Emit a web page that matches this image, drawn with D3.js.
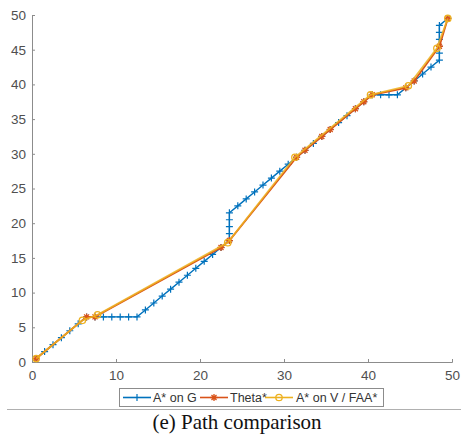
<!DOCTYPE html>
<html>
<head>
<meta charset="utf-8">
<script src="https://cdn.jsdelivr.net/npm/d3@7"></script>
<style>
  body { margin: 0; background: #fff; }
  .tick-label { font-family: "Liberation Sans", Arial, sans-serif; font-size: 13.5px; fill: #4f4f4f; }
  .legend-text { font-family: "Liberation Sans", Arial, sans-serif; font-size: 12.5px; fill: #333; }
  .caption { font-family: "Liberation Serif", "Times New Roman", serif; font-size: 21px; fill: #111; }
</style>
</head>
<body>
<div id="chart"></div>
<script>
// grid path found by A* (cell centres)
const gridX = [0.5, 1.5, 2.5, 3.5, 4.5, 5.5, 6.5,
  7.5, 8.5, 9.5, 10.5, 11.5, 12.5,
  13.5, 14.5, 15.5, 16.5, 17.5, 18.5, 19.5, 20.5, 21.5, 22.5,
  23.5, 23.5, 23.5, 23.5, 23.5,
  24.5, 25.5, 26.5, 27.5, 28.5, 29.5, 30.5, 31.5, 32.5, 33.5, 34.5, 35.5, 36.5, 37.5, 38.5, 39.5, 40.5,
  41.5, 42.5, 43.5,
  44.5, 45.5, 46.5, 47.5, 48.5,
  48.5, 48.5, 48.5, 48.5, 48.5,
  49.5];
const gridY = [0.5, 1.5, 2.5, 3.5, 4.5, 5.5, 6.5,
  6.5, 6.5, 6.5, 6.5, 6.5, 6.5,
  7.5, 8.5, 9.5, 10.5, 11.5, 12.5, 13.5, 14.5, 15.5, 16.5,
  17.5, 18.5, 19.5, 20.5, 21.5,
  22.5, 23.5, 24.5, 25.5, 26.5, 27.5, 28.5, 29.5, 30.5, 31.5, 32.5, 33.5, 34.5, 35.5, 36.5, 37.5, 38.5,
  38.5, 38.5, 38.5,
  39.5, 40.5, 41.5, 42.5, 43.5,
  44.5, 45.5, 46.5, 47.5, 48.5,
  49.5];

// Theta* waypoints
const thetaX = [0.5, 6.5, 7.5, 22.5, 23.5, 31.5, 32.5, 34.5, 35.5, 38.5, 39.5, 40.5, 44.5, 45.5, 48.5, 49.5];
const thetaY = [0.5, 6.5, 6.5, 16.5, 17.5, 29.5, 30.5, 32.5, 33.5, 36.5, 37.5, 38.5, 39.5, 40.5, 45.5, 49.5];

// A* on visibility graph / FAA*
const visX = [0.5, 6, 7.8, 23.3, 31.3, 40.3, 44.8, 48.2, 49.5];
const visY = [0.5, 6, 6.8, 17.2, 29.5, 38.5, 39.8, 45.2, 49.5];

const seriesNames = ["A* on G", "Theta*", "A* on V / FAA*"];
const xTicks = [0, 10, 20, 30, 40, 50];
const yTicks = [0, 5, 10, 15, 20, 25, 30, 35, 40, 45, 50];
const caption = "(e) Path comparison";

const width = 461, height = 434;
const colors = ["#0072BD", "#D95319", "#EDB120"];

const svg = d3.select("#chart").append("svg")
  .attr("width", width)
  .attr("height", height);

const x = d3.scaleLinear().domain([0, 50]).range([32, 452]);
const y = d3.scaleLinear().domain([0, 50]).range([362, 15]);

// axes (MATLAB style, ticks pointing inward, no box)
const axisColor = "#8c8c8c";
const xAxis = svg.append("g")
  .attr("transform", "translate(0," + y(0) + ")")
  .call(d3.axisBottom(x).tickValues(xTicks).tickSizeInner(-3).tickSizeOuter(-3).tickPadding(8));
const yAxis = svg.append("g")
  .attr("transform", "translate(" + x(0) + ",0)")
  .call(d3.axisLeft(y).tickValues(yTicks).tickSizeInner(-3).tickSizeOuter(-3).tickPadding(6));
[xAxis, yAxis].forEach(g => {
  g.select(".domain").attr("stroke", axisColor);
  g.selectAll(".tick line").attr("stroke", axisColor);
  g.selectAll(".tick text").attr("class", "tick-label").attr("font-size", null).attr("font-family", null).attr("fill", null);
});

const toPts = (xs, ys) => xs.map((v, i) => [v, ys[i]]);
const line = d3.line().x(d => x(d[0])).y(d => y(d[1]));

const plusPath = "M-3.5,0H3.5M0,-3.5V3.5";
const starPath = "M-3.5,0H3.5M0,-3.5V3.5M-2.5,-2.5L2.5,2.5M-2.5,2.5L2.5,-2.5";

function drawPlus(g, pts, color) {
  g.selectAll(null).data(pts).enter().append("path")
    .attr("d", plusPath)
    .attr("transform", d => "translate(" + x(d[0]) + "," + y(d[1]) + ")")
    .attr("stroke", color).attr("stroke-width", 1.2).attr("fill", "none");
}
function drawStar(g, pts, color) {
  g.selectAll(null).data(pts).enter().append("path")
    .attr("d", starPath)
    .attr("transform", d => "translate(" + x(d[0]) + "," + y(d[1]) + ")")
    .attr("stroke", color).attr("stroke-width", 1.3).attr("fill", "none");
}
function drawCircle(g, pts, color) {
  g.selectAll(null).data(pts).enter().append("circle")
    .attr("cx", d => x(d[0])).attr("cy", d => y(d[1])).attr("r", 3.2)
    .attr("stroke", color).attr("stroke-width", 1.3).attr("fill", "none");
}

const plot = svg.append("g");

const gridPts = toPts(gridX, gridY);
const thetaPts = toPts(thetaX, thetaY);
const visPts = toPts(visX, visY);

plot.append("path").datum(gridPts).attr("d", line)
  .attr("fill", "none").attr("stroke", colors[0]).attr("stroke-width", 1.4);
drawPlus(plot, gridPts, colors[0]);

plot.append("path").datum(thetaPts).attr("d", line)
  .attr("fill", "none").attr("stroke", colors[1]).attr("stroke-width", 1.8);
drawStar(plot, thetaPts, colors[1]);

plot.append("path").datum(visPts).attr("d", line)
  .attr("fill", "none").attr("stroke", colors[2]).attr("stroke-width", 1.8).attr("stroke-opacity", 0.85);
drawCircle(plot, visPts, colors[2]);

// legend
const legend = svg.append("g");
legend.append("rect")
  .attr("x", 119.5).attr("y", 388.5).attr("width", 264).attr("height", 18)
  .attr("fill", "#fff").attr("stroke", "#8c8c8c").attr("stroke-width", 1);

const entries = [
  { x0: 123, x1: 151, tx: 153 },
  { x0: 200, x1: 228, tx: 230 },
  { x0: 265, x1: 293, tx: 296 }
];
const ly = 397.5;
entries.forEach((e, i) => {
  legend.append("line")
    .attr("x1", e.x0).attr("x2", e.x1).attr("y1", ly).attr("y2", ly)
    .attr("stroke", colors[i]).attr("stroke-width", 1.6);
  const mx = (e.x0 + e.x1) / 2;
  const mg = legend.append("g").attr("transform", "translate(" + mx + "," + ly + ")");
  if (i === 0) mg.append("path").attr("d", plusPath).attr("stroke", colors[i]).attr("stroke-width", 1.2);
  if (i === 1) mg.append("path").attr("d", starPath).attr("stroke", colors[i]).attr("stroke-width", 1.3);
  if (i === 2) mg.append("circle").attr("r", 3.2).attr("fill", "none").attr("stroke", colors[i]).attr("stroke-width", 1.3);
  legend.append("text")
    .attr("class", "legend-text")
    .attr("x", e.tx).attr("y", ly + 4.4)
    .text(seriesNames[i]);
});

// separator and caption
svg.append("line")
  .attr("x1", 7).attr("x2", width).attr("y1", 409.5).attr("y2", 409.5)
  .attr("stroke", "#b0b0b0").attr("stroke-width", 1);
svg.append("text")
  .attr("class", "caption")
  .attr("x", 237).attr("y", 429)
  .attr("text-anchor", "middle")
  .text(caption);
</script>
</body>
</html>
